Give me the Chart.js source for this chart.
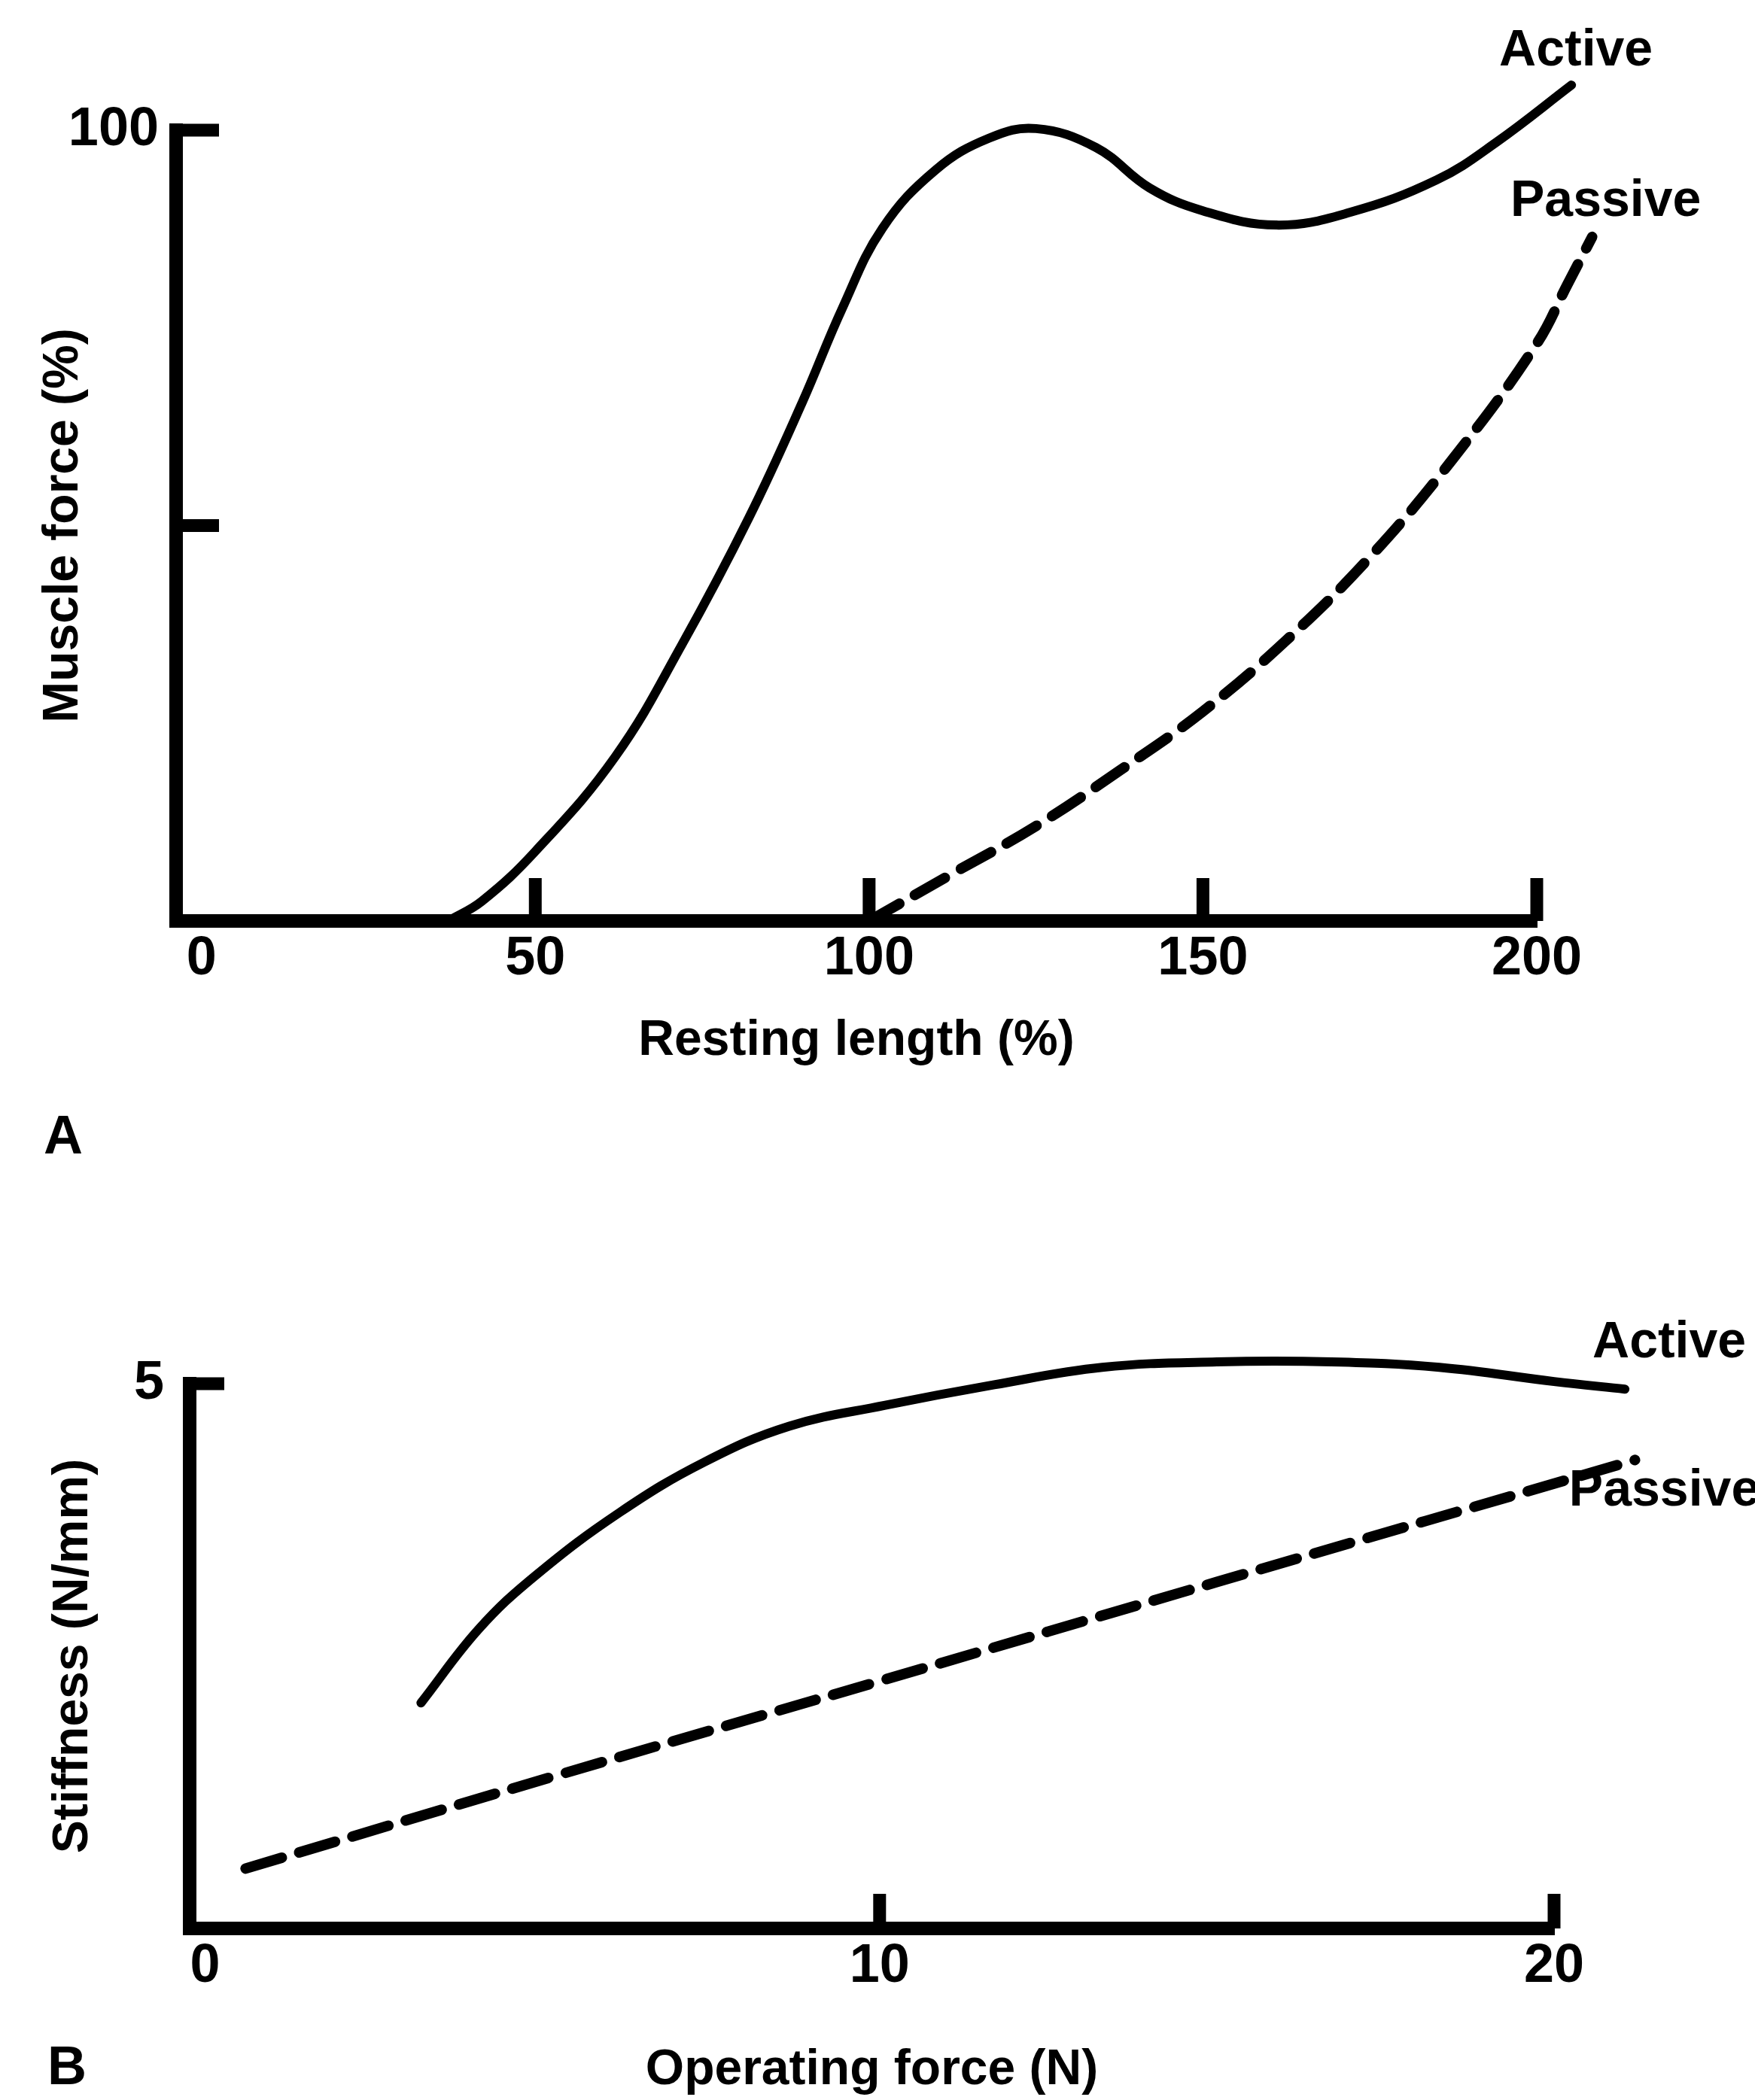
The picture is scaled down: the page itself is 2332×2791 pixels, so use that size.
<!DOCTYPE html>
<html>
<head>
<meta charset="utf-8">
<title>Muscle force and stiffness</title>
<script src="https://cdn.jsdelivr.net/npm/chart.js@4.4.1/dist/chart.umd.min.js"></script>
<style>
  html, body { margin: 0; padding: 0; background: #fff; }
  body { width: 2332px; height: 2791px; position: relative; overflow: hidden; }
  canvas { position: absolute; left: 0; }
  #chartA { top: 0; }
  #chartB { top: 1560px; }
</style>
</head>
<body>
<canvas id="chartA" width="2332" height="1560"></canvas>
<canvas id="chartB" width="2332" height="1231"></canvas>
<script>
// A: muscle force vs resting length
const lengthActive = [37, 42, 50, 62, 72, 82, 90, 96, 102, 110, 118, 125, 134, 142, 150, 161, 172, 185, 194, 205.2];
const forceActive = [0, 2.5, 8.8, 20.8, 35, 51, 65.6, 77.5, 87.6, 95, 99, 100.2, 97.8, 92.7, 89.8, 88, 89.6, 93.7, 98.5, 105.7];
const lengthPassive = [100, 112.5, 125, 137.5, 150, 162.5, 175, 187.5, 200, 204.6, 208.3];
const forcePassive = [0, 6, 12, 19, 26.5, 35.5, 46, 58.5, 73, 80.5, 86.5];
const lengthTicks = [0, 50, 100, 150, 200];
const lengthTickLabels = ['0', '50', '100', '150', '200'];
const forceTicks = [50, 100];
const forceTickLabels = ['', '100'];

// B: stiffness vs operating force
const opForceActive = [3.2, 4.06, 4.9, 6.15, 7.4, 8.66, 10.07, 11.7, 13.3, 15, 16.7, 18.3, 20, 21.05];
const stiffActive = [2.07, 2.75, 3.24, 3.82, 4.28, 4.61, 4.8, 4.99, 5.15, 5.2, 5.2, 5.15, 5.02, 4.95];
const opForcePassive = [0.6, 5.3, 10, 15, 21.2];
const stiffPassive = [0.55, 1.42, 2.27, 3.18, 4.3];
const opForceTicks = [0, 10, 20];
const opForceTickLabels = ['0', '10', '20'];
const stiffTicks = [5];
const stiffTickLabels = ['5'];

const FONT = "'Liberation Sans', Arial, Helvetica, sans-serif";
Chart.defaults.font.family = FONT;
Chart.defaults.font.weight = 'bold';
Chart.defaults.color = '#000';

const toPoints = (xs, ys) => xs.map((x, i) => ({ x: x, y: ys[i] }));

// short tick marks pointing into the plot, like the printed figure
const inwardTicks = {
  id: 'inwardTicks',
  afterDraw(chart, args, opts) {
    const { ctx, chartArea, scales } = chart;
    ctx.save();
    ctx.strokeStyle = '#000';
    ctx.lineWidth = opts.width;
    ctx.lineCap = 'butt';
    ctx.beginPath();
    scales.x.ticks.forEach(t => {
      if (t.value <= 0) return;
      const px = scales.x.getPixelForValue(t.value);
      ctx.moveTo(px, chartArea.bottom);
      ctx.lineTo(px, chartArea.bottom - opts.length);
    });
    scales.y.ticks.forEach(t => {
      if (t.value <= 0) return;
      const py = scales.y.getPixelForValue(t.value);
      ctx.moveTo(chartArea.left, py);
      ctx.lineTo(chartArea.left + opts.length, py);
    });
    ctx.stroke();
    ctx.restore();
  }
};

// "Active" / "Passive" next to the end of each curve, plus the panel letter
const endLabels = {
  id: 'endLabels',
  afterDatasetsDraw(chart, args, opts) {
    const ctx = chart.ctx;
    ctx.save();
    ctx.fillStyle = '#000';
    ctx.font = 'bold ' + opts.size + 'px ' + FONT;
    ctx.textAlign = 'center';
    ctx.textBaseline = 'middle';
    chart.data.datasets.forEach((ds, i) => {
      const pts = chart.getDatasetMeta(i).data;
      const last = pts[pts.length - 1];
      const off = opts.offsets[i];
      ctx.fillText(ds.label, last.x + off[0], last.y + off[1]);
    });
    ctx.font = 'bold ' + opts.panel.size + 'px ' + FONT;
    ctx.fillText(opts.panel.text, opts.panel.x, opts.panel.y);
    ctx.restore();
  }
};

function axis(c) {
  return {
    type: 'linear',
    bounds: 'data',
    // range set after the data limits so that points past the axis end are still drawn
    afterDataLimits: scale => { scale.min = c.min; scale.max = c.max; },
    grid: { display: false, drawTicks: false },
    border: { display: true, color: '#000', width: 18 },
    afterBuildTicks: scale => { scale.ticks = c.ticks.map(v => ({ value: v })); },
    afterFit: scale => {
      if (c.width) scale.width = c.width;
      if (c.height) scale.height = c.height;
    },
    ticks: {
      autoSkip: false,
      maxRotation: 0,
      padding: c.tickPad,
      font: { size: 72, weight: 'bold' },
      callback: v => {
        const i = c.ticks.indexOf(v);
        return i >= 0 ? c.labels[i] : '';
      }
    },
    title: {
      display: true,
      text: c.title,
      font: { size: 66, weight: 'bold' },
      padding: c.titlePad
    }
  };
}

function makeChart(id, c) {
  return new Chart(document.getElementById(id), {
    type: 'line',
    data: {
      datasets: [
        {
          label: 'Active',
          data: toPoints(c.activeX, c.activeY),
          borderColor: '#000',
          borderWidth: 12,
          borderCapStyle: 'round'
        },
        {
          label: 'Passive',
          data: toPoints(c.passiveX, c.passiveY),
          borderColor: '#000',
          borderWidth: 14,
          borderDash: c.dash,
          borderCapStyle: 'round'
        }
      ]
    },
    options: {
      responsive: false,
      animation: false,
      events: [],
      layout: { padding: c.padding },
      elements: {
        point: { radius: 0 },
        line: { fill: false, capBezierPoints: false, tension: 0.4 }
      },
      datasets: { line: { clip: false } },
      scales: { x: axis(c.x), y: axis(c.y) },
      plugins: {
        legend: { display: false },
        tooltip: { enabled: false },
        inwardTicks: { width: 17, length: c.tickLen },
        endLabels: { size: 68, offsets: c.labelOffsets, panel: c.panel }
      }
    },
    plugins: [inwardTicks, endLabels]
  });
}

makeChart('chartA', {
  activeX: lengthActive, activeY: forceActive,
  passiveX: lengthPassive, passiveY: forcePassive,
  dash: [46, 24],
  padding: { top: 173, right: 290, left: 0, bottom: 0 },
  tickLen: 57,
  labelOffsets: [[6, -45], [18, -47]],
  panel: { text: 'A', x: 84, y: 1513, size: 72 },
  x: { min: -3.8, max: 200, ticks: lengthTicks, labels: lengthTickLabels,
       height: 336, tickPad: 8, title: 'Resting length (%)', titlePad: { top: 0, bottom: 137 } },
  y: { min: 0, max: 100, ticks: forceTicks, labels: forceTickLabels,
       width: 234, tickPad: 23, title: 'Muscle force (%)', titlePad: { top: 45, bottom: 0 } }
});

makeChart('chartB', {
  activeX: opForceActive, activeY: stiffActive,
  passiveX: opForcePassive, passiveY: stiffPassive,
  dash: [50, 24],
  padding: { top: 279, right: 267, left: 0, bottom: 0 },
  tickLen: 46,
  labelOffsets: [[59, -61], [39, 42]],
  panel: { text: 'B', x: 89, y: 1190, size: 72 },
  x: { min: -0.23, max: 20, ticks: opForceTicks, labels: opForceTickLabels,
       height: 228, tickPad: 8, title: 'Operating force (N)', titlePad: { top: 0, bottom: 0 } },
  y: { min: 0, max: 5, ticks: stiffTicks, labels: stiffTickLabels,
       width: 252, tickPad: 34, title: 'Stiffness (N/mm)', titlePad: { top: 58, bottom: 0 } }
});
</script>
</body>
</html>
